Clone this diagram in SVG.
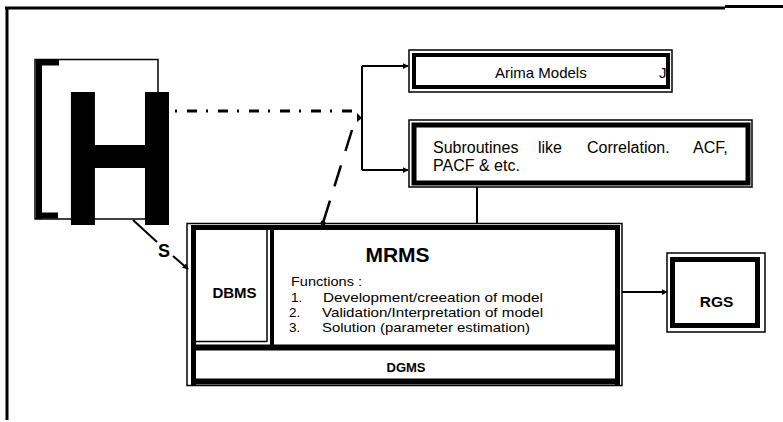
<svg xmlns="http://www.w3.org/2000/svg" width="783" height="422" viewBox="0 0 783 422">
<defs>
<style>
text{font-family:"Liberation Sans",Arial,sans-serif;fill:#000}
.b{font-weight:bold}
.f{font-size:13.5px}
.thin{fill:none;stroke:#000;stroke-width:1.5}
.thick{fill:none;stroke:#000;stroke-width:5}
.ln{fill:none;stroke:#000;stroke-width:2}
</style>
<marker id="ah" viewBox="0 0 8 8" refX="7" refY="4" markerWidth="6" markerHeight="6" markerUnits="userSpaceOnUse" orient="auto">
<path d="M0,0 L8,4 L0,8 z" fill="#000"/>
</marker>
</defs>
<rect width="783" height="422" fill="#fff"/>
<g id="frame">
<path d="M5,8 H725" stroke="#000" stroke-width="3"/>
<path d="M725,6.5 H783" stroke="#000" stroke-width="3"/>
<path d="M7,7 V420" stroke="#000" stroke-width="3"/>
</g>
<g id="H">
<rect x="35" y="59.5" width="123" height="159.5" class="thin"/>
<path d="M39,60 V219" stroke="#000" stroke-width="6"/>
<path d="M36,62.5 H59" stroke="#000" stroke-width="6"/>
<path d="M36,215.5 H58" stroke="#000" stroke-width="6"/>
<text class="b" font-size="193" transform="translate(59.8,225) scale(0.865,1)">H</text>
</g>
<g id="connectors">
<path d="M175,111 H357" fill="none" stroke="#000" stroke-width="3" stroke-dasharray="2 10 10 9"/>
<path d="M357,113 L362,118 L357,122 z" fill="#000"/>
<path d="M362,66 V170" class="ln"/>
<path d="M362,66 H408" class="ln" marker-end="url(#ah)"/>
<path d="M362,170 H408" class="ln" marker-end="url(#ah)"/>
<path d="M352,130 L323,223" fill="none" stroke="#000" stroke-width="2.5" stroke-dasharray="22 15"/>
<circle cx="323" cy="223" r="2.5" fill="#000"/>
<path d="M477,187 V224" class="ln"/>
<path d="M133,220 L157,242" class="ln"/>
<path d="M173,256 L188,269" class="ln" marker-end="url(#ah)"/>
<text class="b" x="158" y="257" font-size="18">S</text>
<path d="M622,292 H667" class="ln" marker-end="url(#ah)"/>
</g>
<g id="arima">
<rect x="409" y="50" width="263" height="42" class="thin"/>
<rect x="414" y="55" width="254" height="32" fill="none" stroke="#000" stroke-width="4"/>
<text x="495" y="78" font-size="15">Arima Models</text>
<text x="659" y="78" font-size="15">J</text>
</g>
<g id="subroutines">
<rect x="409" y="120" width="343" height="67" class="thin"/>
<rect x="414" y="125" width="334" height="58" class="thick"/>
<text font-size="16"><tspan x="433" y="153">Subroutines</tspan><tspan x="538" y="153">like</tspan><tspan x="587" y="153">Correlation.</tspan><tspan x="693" y="153">ACF,</tspan></text>
<text x="433" y="171" font-size="16">PACF &amp; etc.</text>
</g>
<g id="main">
<rect x="187" y="223.5" width="435" height="162" class="thin"/>
<path d="M193.5,226 V385" stroke="#000" stroke-width="5"/>
<path d="M191,227.5 H620" stroke="#000" stroke-width="5"/>
<path d="M617.5,226 V385" stroke="#000" stroke-width="5"/>
<path d="M191,381.5 H620" stroke="#000" stroke-width="6"/>
<path d="M267,228 V342" class="thin"/>
<path d="M272,228 V348" stroke="#000" stroke-width="4"/>
<path d="M196,341.5 H267" class="thin"/>
<path d="M196,347.5 H620" stroke="#000" stroke-width="6"/>
</g>
<g id="dbms">
<text class="b" x="234.5" y="298" font-size="15" text-anchor="middle">DBMS</text>
</g>
<g id="mrms">
<text class="b" x="397.5" y="262" font-size="21" text-anchor="middle">MRMS</text>
<text class="f" x="291" y="286" textLength="71" lengthAdjust="spacingAndGlyphs">Functions :</text>
<text class="f" x="291" y="302">1.</text>
<text class="f" x="323" y="302" textLength="220" lengthAdjust="spacingAndGlyphs">Development/creeation of  model</text>
<text class="f" x="289" y="317">2.</text>
<text class="f" x="322" y="317" textLength="221" lengthAdjust="spacingAndGlyphs">Validation/Interpretation of model</text>
<text class="f" x="289" y="332">3.</text>
<text class="f" x="322" y="332" textLength="208" lengthAdjust="spacingAndGlyphs">Solution (parameter estimation)</text>
</g>
<g id="dgms">
<text class="b" x="406" y="372" font-size="13" text-anchor="middle">DGMS</text>
</g>
<g id="rgs">
<rect x="667" y="253" width="98" height="79" class="thin"/>
<rect x="672.5" y="259.5" width="85" height="66" class="thick"/>
<text class="b" x="716.5" y="307" font-size="15.5" text-anchor="middle">RGS</text>
</g>
</svg>
